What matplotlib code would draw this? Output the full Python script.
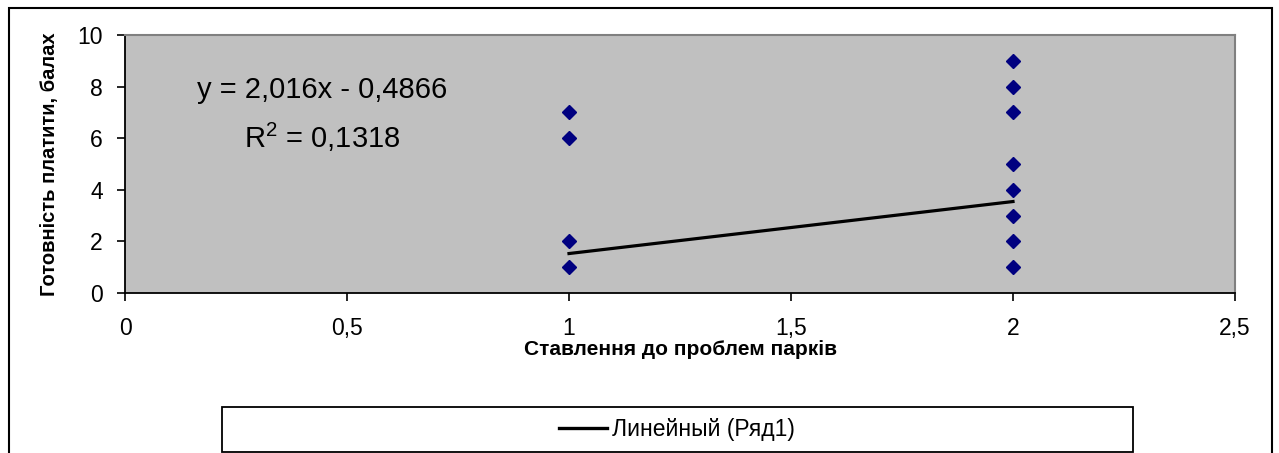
import matplotlib
matplotlib.use("Agg")
import matplotlib.pyplot as plt
from matplotlib.patches import Rectangle

plt.rcParams.update({
    "font.family": ["Liberation Sans", "DejaVu Sans"],
    "mathtext.fontset": "custom",
    "mathtext.rm": "Liberation Sans",
    "mathtext.it": "Liberation Sans",
})

# attitude score (x) and willingness to pay (y), visible points only
x_vals = [1, 1, 1, 1, 2, 2, 2, 2, 2, 2, 2, 2]
y_vals = [7, 6, 2, 1, 9, 8, 7, 5, 4, 3, 2, 1]
slope, intercept = 2.016, -0.4866
r2 = 0.1318
trend_x = [1, 2]
xticks = [0, 0.5, 1, 1.5, 2, 2.5]
xtick_labels = ["0", "0,5", "1", "1,5", "2", "2,5"]
yticks = [0, 2, 4, 6, 8, 10]

W, H = 1279, 453
fig = plt.figure(figsize=(W / 100, H / 100), dpi=100)
ax = fig.add_axes([125 / W, 1 - 293 / H, 1110 / W, 258 / H])
ax.set_facecolor("#c0c0c0")

ax.plot(x_vals, y_vals, "D", color="#000080", ms=7.3, ls="", zorder=3)
ty = [slope * v + intercept for v in trend_x]
ax.plot(trend_x, ty, color="black", lw=2.3, label="Линейный (Ряд1)", zorder=2)

ax.set_xlim(0, 2.5)
ax.set_ylim(0, 10)
ax.set_xticks(xticks)
ax.set_xticklabels(xtick_labels)
ax.set_yticks(yticks)
ax.tick_params(direction="out", length=6, width=1.2, labelsize=16.5)
ax.tick_params(axis="x", pad=11)
ax.tick_params(axis="y", pad=10)

for s in ("top", "right"):
    ax.spines[s].set_color("#808080")
    ax.spines[s].set_linewidth(1.5)
for s in ("left", "bottom"):
    ax.spines[s].set_color("black")
    ax.spines[s].set_linewidth(1.3)

ax.set_xlabel("Ставлення до проблем парків", fontsize=15, fontweight="bold", labelpad=0)
ax.set_ylabel("Готовність платити, балах", fontsize=14.5, fontweight="bold", labelpad=13)

ax.text(0.444, 7.85, f"y = {slope:.3f}x - {abs(intercept):.4f}".replace(".", ","),
        fontsize=21, ha="center", va="center")
ax.text(0.444, 6.05, "R$^2$ = " + f"{r2:.4f}".replace(".", ","),
        fontsize=21, ha="center", va="center")

# chart frame
fig.patches.append(Rectangle((9 / W, -0.1), 1263 / W, 1.1 - 8 / H,
                             transform=fig.transFigure, fill=False,
                             ec="black", lw=1.5))

# legend box
fig.patches.append(Rectangle((222 / W, 1 / H), 911 / W, 45 / H,
                             transform=fig.transFigure, fill=True, fc="white",
                             ec="black", lw=1.3))
leg = fig.legend(loc="center", bbox_to_anchor=(677 / W, 23.5 / H),
                 fontsize=16.5, frameon=False, handlelength=2.1,
                 handletextpad=0.25, borderaxespad=0)
leg.get_lines()[0].set_linewidth(2.4)

fig.savefig("out.png", dpi=100)
